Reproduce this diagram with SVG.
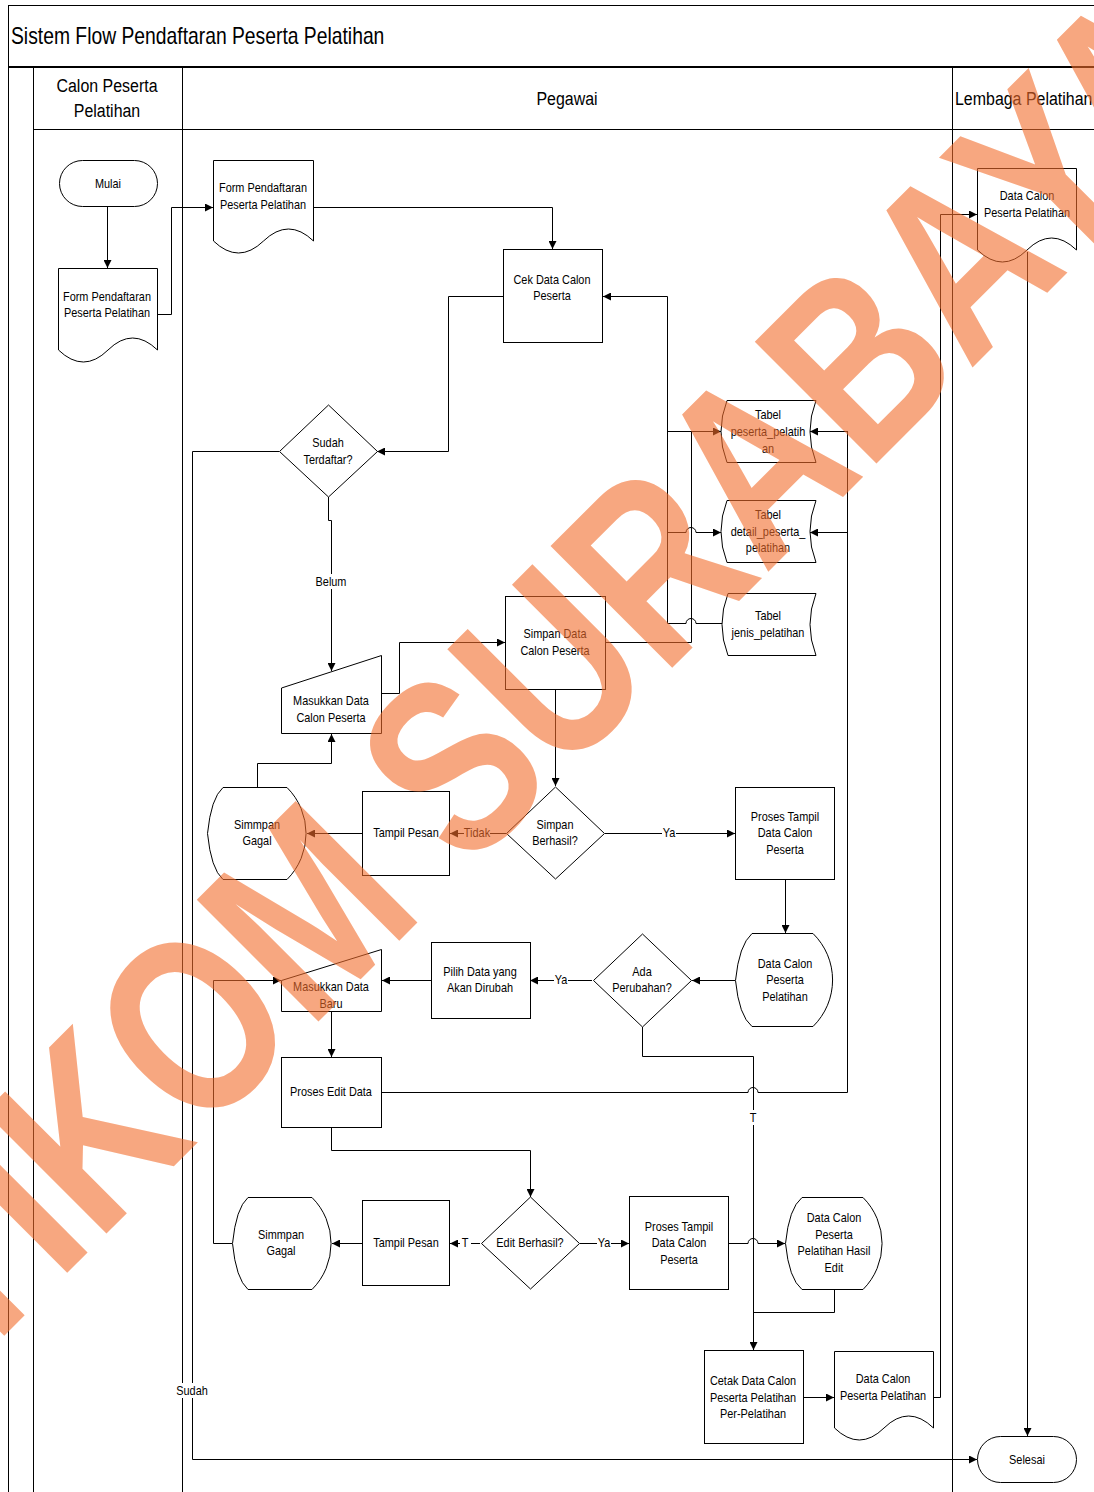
<svg xmlns="http://www.w3.org/2000/svg" width="1094" height="1492" viewBox="0 0 1094 1492">
<defs>
<marker id="ah" viewBox="0 0 10 10" refX="10" refY="5" markerWidth="8" markerHeight="8" markerUnits="userSpaceOnUse" orient="auto">
<path d="M0,0 L10,5 L0,10 Z" fill="#000"/>
</marker>
<style>
.sh{fill:#fff;stroke:#000;stroke-width:1}
.fr{fill:none;stroke:#000;stroke-width:1}
.cn{fill:none;stroke:#000;stroke-width:1}
.ar{marker-end:url(#ah)}
text{font-family:"Liberation Sans",Arial,sans-serif;fill:#000}
.t{font-size:13px;text-anchor:middle}
.hd{font-size:19px;text-anchor:middle}
.bg{fill:#fff;stroke:none}
</style>
</defs>
<rect width="1094" height="1492" fill="#fff"/>
<g id="frame">
<line class="fr" x1="8" y1="5.5" x2="1094" y2="5.5"/>
<line class="fr" x1="8.5" y1="5" x2="8.5" y2="1492"/>
<line x1="8" y1="67" x2="1094" y2="67" stroke="#000" stroke-width="2"/>
<line class="fr" x1="33.5" y1="67" x2="33.5" y2="1492"/>
<line class="fr" x1="182.5" y1="67" x2="182.5" y2="1492"/>
<line class="fr" x1="952.5" y1="67" x2="952.5" y2="1492"/>
<line class="fr" x1="33" y1="129.5" x2="1094" y2="129.5"/>
<g transform="matrix(.84 0 0 1 1.76 0)"><text x="11" y="44" style="font-size:23px">Sistem Flow Pendaftaran Peserta Pelatihan</text></g>
<g transform="matrix(.84 0 0 1 17.12 0)"><text class="hd" x="107" y="92">Calon Peserta</text><text class="hd" x="107" y="117">Pelatihan</text></g>
<g transform="matrix(.84 0 0 1 90.72 0)"><text class="hd" x="567" y="105">Pegawai</text></g>
<g transform="matrix(.84 0 0 1 152.8 0)"><text x="955" y="105" style="font-size:19px">Lembaga Pelatihan</text></g>
</g>
<g id="connectors">
<path class="cn ar" d="M107.5,207 V268"/>
<path class="cn ar" d="M157,314.5 H171.5 V207.5 H213"/>
<path class="cn ar" d="M313,207.5 H552.5 V249"/>
<path class="cn ar" d="M503,296.5 H448.5 V451.5 H377"/>
<path class="cn ar" d="M328.5,497 V520.5 H331.5 V671"/>
<path class="cn ar" d="M279,451.5 H192.5 V1459.5 H977"/>
<path class="cn ar" d="M381,693.5 H399.5 V642.5 H505"/>
<path class="cn ar" d="M722,623.5 H696 A5,5 0 0 0 686,623.5 H667.5 V296.5 H603"/>
<path class="cn ar" d="M667,431.5 H721"/>
<path class="cn ar" d="M667,532.5 H686 A5,5 0 0 1 696,532.5 H721"/>
<path class="cn" d="M605,642.5 H691.5 V431.5"/>
<path class="cn ar" d="M847.5,431.5 H810"/>
<path class="cn ar" d="M847.5,532.5 H810"/>
<path class="cn" d="M381,1092.5 H748 A5,5 0 0 1 758,1092.5 H847.5 V431"/>
<path class="cn ar" d="M555.5,689 V786"/>
<path class="cn ar" d="M506,833.5 H450"/>
<path class="cn ar" d="M362,833.5 H307"/>
<path class="cn ar" d="M257.5,787 V763.5 H331.5 V734"/>
<path class="cn ar" d="M605,833.5 H735"/>
<path class="cn ar" d="M785.5,879 V933"/>
<path class="cn ar" d="M735,980.5 H692"/>
<path class="cn ar" d="M592,980.5 H530"/>
<path class="cn ar" d="M431,980.5 H382"/>
<path class="cn ar" d="M232,1243.5 H213.5 V980.5 H281"/>
<path class="cn ar" d="M331.5,1011 V1057"/>
<path class="cn ar" d="M331.5,1127 V1150.5 H530.5 V1197"/>
<path class="cn ar" d="M642.5,1027 V1056.5 H753.5 V1350"/>
<path class="cn ar" d="M480,1243.5 H450"/>
<path class="cn ar" d="M362,1243.5 H332"/>
<path class="cn ar" d="M580,1243.5 H629"/>
<path class="cn ar" d="M729,1243.5 H748 A5,5 0 0 1 758,1243.5 H785"/>
<path class="cn" d="M834.5,1289 V1312.5 H753.5"/>
<path class="cn ar" d="M803,1397.5 H834"/>
<path class="cn ar" d="M933,1397.5 H940.5 V214.5 H977"/>
<path class="cn ar" d="M1027.5,252 V1436"/>
<rect class="bg" x="315" y="574" width="32" height="15"/>
<rect class="bg" x="177" y="1383" width="31" height="15"/>
<rect class="bg" x="464" y="826" width="26" height="15"/>
<rect class="bg" x="662" y="826" width="14" height="15"/>
<rect class="bg" x="554" y="973" width="14" height="15"/>
<rect class="bg" x="748" y="1110" width="11" height="15"/>
<rect class="bg" x="460" y="1236" width="11" height="15"/>
<rect class="bg" x="597" y="1236" width="14" height="15"/>
<g transform="matrix(.84 0 0 1 52.96 0)"><text class="t" x="331" y="586">Belum</text></g>
<g transform="matrix(.84 0 0 1 30.72 0)"><text class="t" x="192" y="1395">Sudah</text></g>
<g transform="matrix(.84 0 0 1 76.32 0)"><text class="t" x="477" y="837">Tidak</text></g>
<g transform="matrix(.84 0 0 1 107.04 0)"><text class="t" x="669" y="837">Ya</text></g>
<g transform="matrix(.84 0 0 1 89.76 0)"><text class="t" x="561" y="984">Ya</text></g>
<g transform="matrix(.84 0 0 1 120.48 0)"><text class="t" x="753" y="1122">T</text></g>
<g transform="matrix(.84 0 0 1 74.4 0)"><text class="t" x="465" y="1247">T</text></g>
<g transform="matrix(.84 0 0 1 96.64 0)"><text class="t" x="604" y="1247">Ya</text></g>
</g>
<g id="mulai">
<rect class="sh" x="59.5" y="160.5" width="98" height="46" rx="23" ry="23"/>
<g transform="matrix(.84 0 0 1 17.28 0)"><text class="t" x="108" y="188">Mulai</text></g>
</g>
<g id="form1">
<path class="sh" d="M58.5,268.5 H157.5 V350 Q132.5,326 108,350 Q83.5,374 58.5,350 Z"/>
<g transform="matrix(.84 0 0 1 17.12 0)"><text class="t" x="107" y="301">Form Pendaftaran</text><text class="t" x="107" y="317">Peserta Pelatihan</text></g>
</g>
<g id="form2">
<path class="sh" d="M213.5,160.5 H313.5 V241 Q288.5,217 263.5,241 Q238.5,265 213.5,241 Z"/>
<g transform="matrix(.84 0 0 1 42.08 0)"><text class="t" x="263" y="192">Form Pendaftaran</text><text class="t" x="263" y="209">Peserta Pelatihan</text></g>
</g>
<g id="cek">
<rect class="sh" x="503.5" y="249.5" width="99" height="93"/>
<g transform="matrix(.84 0 0 1 88.32 0)"><text class="t" x="552" y="284">Cek Data Calon</text><text class="t" x="552" y="300">Peserta</text></g>
</g>
<g id="sudah">
<path class="sh" d="M328.5,405 L377.5,451.5 L328.5,497 L279.5,451.5 Z"/>
<g transform="matrix(.84 0 0 1 52.48 0)"><text class="t" x="328" y="447">Sudah</text><text class="t" x="328" y="464">Terdaftar?</text></g>
</g>
<g id="masukkan1">
<path class="sh" d="M281.5,688 L381.5,655.5 V733.5 H281.5 Z"/>
<g transform="matrix(.84 0 0 1 52.96 0)"><text class="t" x="331" y="705">Masukkan Data</text><text class="t" x="331" y="722">Calon Peserta</text></g>
</g>
<g id="simpandata">
<rect class="sh" x="505.5" y="596.5" width="100" height="93"/>
<g transform="matrix(.84 0 0 1 88.8 0)"><text class="t" x="555" y="638">Simpan Data</text><text class="t" x="555" y="655">Calon Peserta</text></g>
</g>
<g id="tabel1">
<path class="sh" d="M727,400.5 H816 Q804,431.5 816,462.5 H727 Q715,431.5 727,400.5 Z"/>
<g transform="matrix(.84 0 0 1 122.88 0)"><text class="t" x="768" y="419">Tabel</text><text class="t" x="768" y="436">peserta_pelatih</text><text class="t" x="768" y="453">an</text></g>
</g>
<g id="tabel2">
<path class="sh" d="M727,500.5 H816 Q804,531.5 816,562.5 H727 Q715,531.5 727,500.5 Z"/>
<g transform="matrix(.84 0 0 1 122.88 0)"><text class="t" x="768" y="519">Tabel</text><text class="t" x="768" y="536">detail_peserta_</text><text class="t" x="768" y="552">pelatihan</text></g>
</g>
<g id="tabel3">
<path class="sh" d="M728,593.5 H816 Q804,624.5 816,655.5 H728 Q716,624.5 728,593.5 Z"/>
<g transform="matrix(.84 0 0 1 122.88 0)"><text class="t" x="768" y="620">Tabel</text><text class="t" x="768" y="637">jenis_pelatihan</text></g>
</g>
<g id="simpanberhasil">
<path class="sh" d="M555.5,787 L604.5,833.5 L555.5,879 L506.5,833.5 Z"/>
<g transform="matrix(.84 0 0 1 88.8 0)"><text class="t" x="555" y="829">Simpan</text><text class="t" x="555" y="845">Berhasil?</text></g>
</g>
<g id="tampil1">
<rect class="sh" x="362.5" y="791.5" width="87" height="84"/>
<g transform="matrix(.84 0 0 1 64.96 0)"><text class="t" x="406" y="837">Tampil Pesan</text></g>
</g>
<g id="gagal1">
<path class="sh" d="M207.5,833.5 Q211,798 223,787.5 H287 A65,65 0 0 1 287,879.5 H223 Q211,869 207.5,833.5 Z"/>
<g transform="matrix(.84 0 0 1 41.12 0)"><text class="t" x="257" y="829">Simmpan</text><text class="t" x="257" y="845">Gagal</text></g>
</g>
<g id="prosestampil1">
<rect class="sh" x="735.5" y="787.5" width="99" height="92"/>
<g transform="matrix(.84 0 0 1 125.6 0)"><text class="t" x="785" y="821">Proses Tampil</text><text class="t" x="785" y="837">Data Calon</text><text class="t" x="785" y="854">Peserta</text></g>
</g>
<g id="datacalon1">
<path class="sh" d="M735.5,980.5 Q739,945 752,933.5 H813 A65,65 0 0 1 813,1026.5 H752 Q739,1016 735.5,980.5 Z"/>
<g transform="matrix(.84 0 0 1 125.6 0)"><text class="t" x="785" y="968">Data Calon</text><text class="t" x="785" y="984">Peserta</text><text class="t" x="785" y="1001">Pelatihan</text></g>
</g>
<g id="adaperubahan">
<path class="sh" d="M642.5,934 L691.5,980.5 L642.5,1027 L593.5,980.5 Z"/>
<g transform="matrix(.84 0 0 1 102.72 0)"><text class="t" x="642" y="976">Ada</text><text class="t" x="642" y="992">Perubahan?</text></g>
</g>
<g id="pilih">
<rect class="sh" x="431.5" y="942.5" width="99" height="76"/>
<g transform="matrix(.84 0 0 1 76.8 0)"><text class="t" x="480" y="976">Pilih Data yang</text><text class="t" x="480" y="992">Akan Dirubah</text></g>
</g>
<g id="masukkan2">
<path class="sh" d="M281.5,980.5 L381.5,949.5 V1011.5 H281.5 Z"/>
<g transform="matrix(.84 0 0 1 52.96 0)"><text class="t" x="331" y="991">Masukkan Data</text><text class="t" x="331" y="1008">Baru</text></g>
</g>
<g id="prosesedit">
<rect class="sh" x="281.5" y="1057.5" width="100" height="70"/>
<g transform="matrix(.84 0 0 1 52.96 0)"><text class="t" x="331" y="1096">Proses Edit Data</text></g>
</g>
<g id="editberhasil">
<path class="sh" d="M530.5,1197 L579.5,1243.5 L530.5,1289 L481.5,1243.5 Z"/>
<g transform="matrix(.84 0 0 1 84.8 0)"><text class="t" x="530" y="1247">Edit Berhasil?</text></g>
</g>
<g id="tampil2">
<rect class="sh" x="362.5" y="1200.5" width="87" height="85"/>
<g transform="matrix(.84 0 0 1 64.96 0)"><text class="t" x="406" y="1247">Tampil Pesan</text></g>
</g>
<g id="gagal2">
<path class="sh" d="M232.5,1243.5 Q236,1208 248,1197.5 H312 A65,65 0 0 1 312,1289.5 H248 Q236,1279 232.5,1243.5 Z"/>
<g transform="matrix(.84 0 0 1 44.96 0)"><text class="t" x="281" y="1239">Simmpan</text><text class="t" x="281" y="1255">Gagal</text></g>
</g>
<g id="prosestampil2">
<rect class="sh" x="629.5" y="1196.5" width="99" height="93"/>
<g transform="matrix(.84 0 0 1 108.64 0)"><text class="t" x="679" y="1231">Proses Tampil</text><text class="t" x="679" y="1247">Data Calon</text><text class="t" x="679" y="1264">Peserta</text></g>
</g>
<g id="hasiledit">
<path class="sh" d="M785.5,1243.5 Q789,1208 802,1197.5 H863 A65,65 0 0 1 863,1289.5 H802 Q789,1279 785.5,1243.5 Z"/>
<g transform="matrix(.84 0 0 1 133.44 0)"><text class="t" x="834" y="1222">Data Calon</text><text class="t" x="834" y="1239">Peserta</text><text class="t" x="834" y="1255">Pelatihan Hasil</text><text class="t" x="834" y="1272">Edit</text></g>
</g>
<g id="cetak">
<rect class="sh" x="704.5" y="1350.5" width="99" height="93"/>
<g transform="matrix(.84 0 0 1 120.48 0)"><text class="t" x="753" y="1385">Cetak Data Calon</text><text class="t" x="753" y="1402">Peserta Pelatihan</text><text class="t" x="753" y="1418">Per-Pelatihan</text></g>
</g>
<g id="datacalon2">
<path class="sh" d="M834.5,1351.5 H933.5 V1428 Q908.5,1404 884,1428 Q859.5,1452 834.5,1428 Z"/>
<g transform="matrix(.84 0 0 1 141.28 0)"><text class="t" x="883" y="1383">Data Calon</text><text class="t" x="883" y="1400">Peserta Pelatihan</text></g>
</g>
<g id="datacalon3">
<path class="sh" d="M977.5,168.5 H1076.5 V250 Q1051.5,226 1027,250 Q1002.5,274 977.5,250 Z"/>
<g transform="matrix(.84 0 0 1 164.32 0)"><text class="t" x="1027" y="200">Data Calon</text><text class="t" x="1027" y="217">Peserta Pelatihan</text></g>
</g>
<g id="selesai">
<rect class="sh" x="977.5" y="1436.5" width="99" height="46" rx="23" ry="23"/>
<g transform="matrix(.84 0 0 1 164.32 0)"><text class="t" x="1027" y="1464">Selesai</text></g>
</g>
<g id="watermark">
<text x="0" y="0" transform="translate(-123 1463) rotate(-45) scale(0.8 1)" style="font-family:'Liberation Sans',Arial,sans-serif;font-weight:bold;font-size:250px;fill:#f26c2c;fill-opacity:0.6">STIKOM SURABAYA</text>
</g>
</svg>
